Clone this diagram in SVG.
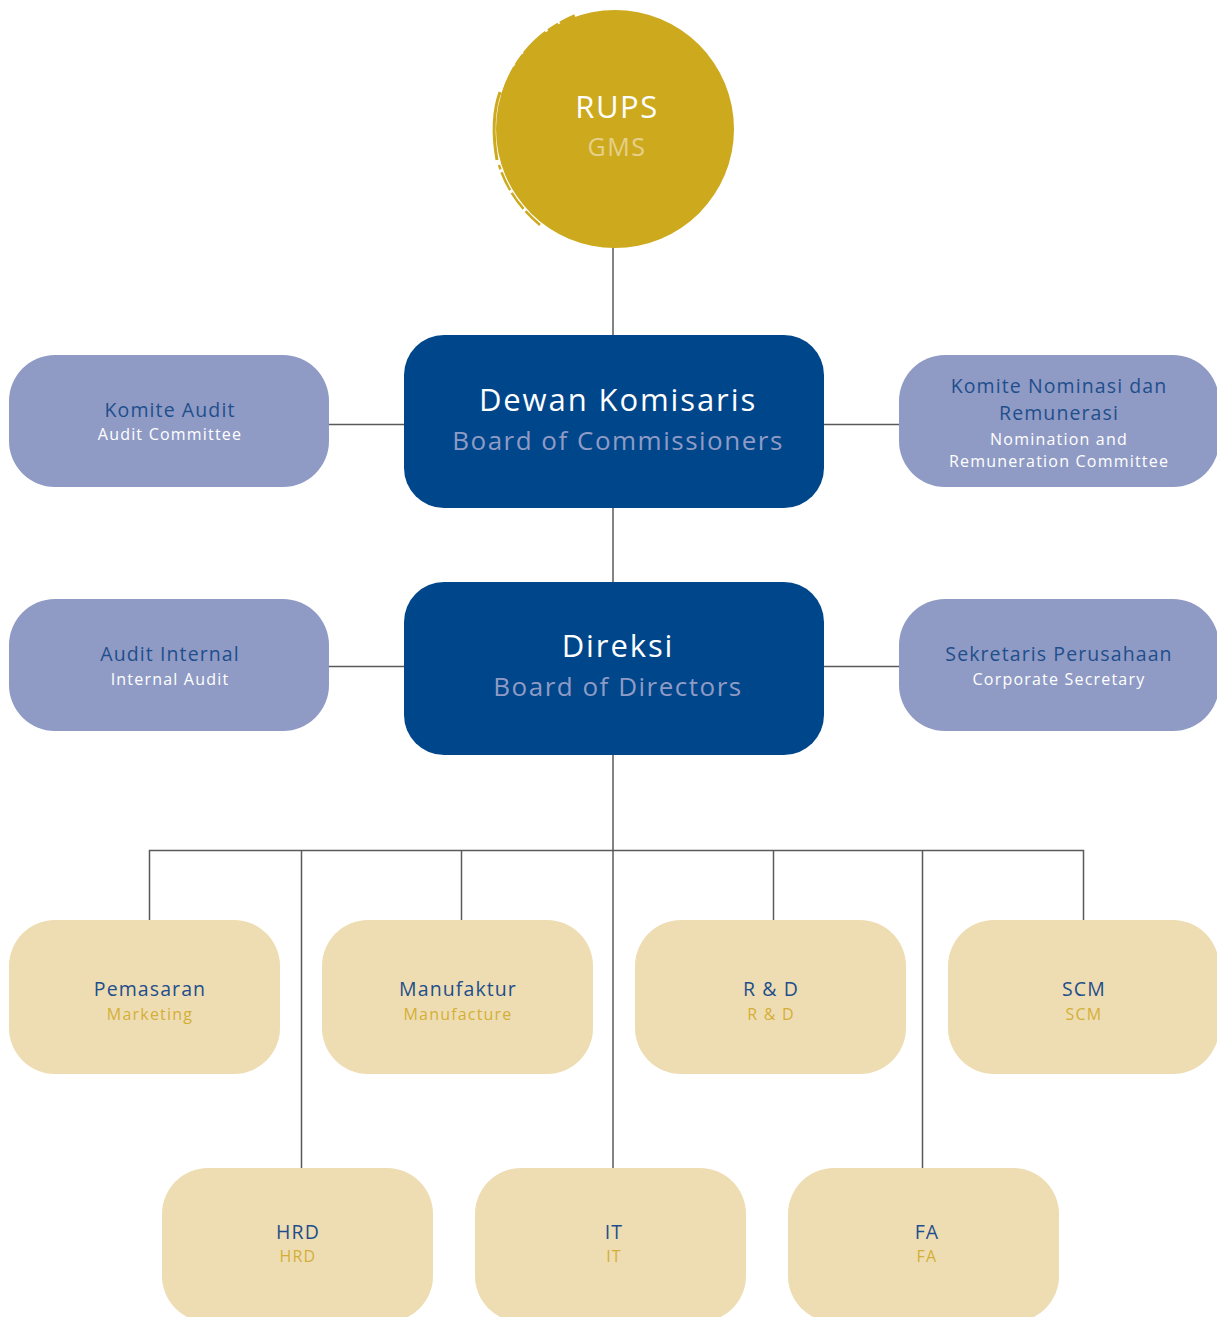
<svg xmlns="http://www.w3.org/2000/svg" width="1217" height="1317" viewBox="0 0 1217 1317">
<style>
.t{font-family:"Open Sans","Liberation Sans",sans-serif;text-anchor:middle}
.conn line,.conn polyline{stroke:#5a5a5a;stroke-width:1.5;fill:none}
.main{fill:#00468B}
.side{fill:#8F9BC5}
.dept{fill:#EEDDB2}
.mt{font-size:31px;fill:#ffffff;letter-spacing:1.9px}
.ms{font-size:26px;fill:#8F9BC5;letter-spacing:1.5px}
.st{font-size:19.5px;fill:#1F4E8C;letter-spacing:1.1px}
.ss{font-size:16px;fill:#ffffff;letter-spacing:1.2px}
.dt{font-size:19.5px;fill:#1F4E8C;letter-spacing:1.1px}
.ds{font-size:16px;fill:#D4AF37;letter-spacing:1.2px}
</style>
<rect width="1217" height="1317" fill="#ffffff"/>
<g class="conn" id="connectors">
<line x1="613" y1="245" x2="613" y2="336"/>
<line x1="613" y1="507" x2="613" y2="583"/>
<line x1="328" y1="424.5" x2="405" y2="424.5"/>
<line x1="823" y1="424.5" x2="900" y2="424.5"/>
<line x1="328" y1="666.5" x2="405" y2="666.5"/>
<line x1="823" y1="666.5" x2="900" y2="666.5"/>
<line x1="613" y1="754" x2="613" y2="1169"/>
<polyline points="149.5,921 149.5,850.5 1083.5,850.5 1083.5,921"/>
<line x1="301.5" y1="850" x2="301.5" y2="1169"/>
<line x1="461.5" y1="850" x2="461.5" y2="921"/>
<line x1="773.5" y1="850" x2="773.5" y2="921"/>
<line x1="922.5" y1="850" x2="922.5" y2="1169"/>
</g>
<g id="rups">
<circle cx="615" cy="129" r="119" fill="#CDA91E"/>
<path d="M503 95 Q520 40 575 16" stroke="#CDA91E" stroke-width="4" fill="none" stroke-dasharray="30 3 12 2"/>
<path d="M497 160 Q490 120 500 92" stroke="#CDA91E" stroke-width="3" fill="none"/>
<path d="M540 225 Q510 200 499 165" stroke="#CDA91E" stroke-width="2.5" fill="none" stroke-dasharray="20 3"/>
<text class="t" x="617" y="118" font-size="31" fill="#ffffff" letter-spacing="1.5">RUPS</text>
<text class="t" x="617" y="156" font-size="25" fill="#E6D08A" letter-spacing="1.5">GMS</text>
</g>
<g id="boc">
<rect class="main" x="404" y="335" width="420" height="173" rx="40"/>
<text class="t mt" x="618" y="411">Dewan Komisaris</text>
<text class="t ms" x="618" y="450">Board of Commissioners</text>
</g>
<g id="direksi">
<rect class="main" x="404" y="582" width="420" height="173" rx="40"/>
<text class="t mt" x="618" y="657">Direksi</text>
<text class="t ms" x="618" y="696">Board of Directors</text>
</g>
<g id="komite-audit">
<rect class="side" x="9" y="355" width="320" height="132" rx="46"/>
<text class="t st" x="170" y="417">Komite Audit</text>
<text class="t ss" x="170" y="440">Audit Committee</text>
</g>
<g id="komite-nominasi">
<rect class="side" x="899" y="355" width="320" height="132" rx="46"/>
<text class="t st" x="1059" y="393">Komite Nominasi dan</text>
<text class="t st" x="1059" y="420">Remunerasi</text>
<text class="t ss" x="1059" y="445">Nomination and</text>
<text class="t ss" x="1059" y="467">Remuneration Committee</text>
</g>
<g id="audit-internal">
<rect class="side" x="9" y="599" width="320" height="132" rx="46"/>
<text class="t st" x="170" y="661">Audit Internal</text>
<text class="t ss" x="170" y="685">Internal Audit</text>
</g>
<g id="sekretaris">
<rect class="side" x="899" y="599" width="320" height="132" rx="46"/>
<text class="t st" x="1059" y="661">Sekretaris Perusahaan</text>
<text class="t ss" x="1059" y="685">Corporate Secretary</text>
</g>
<g id="pemasaran">
<rect class="dept" x="9" y="920" width="271" height="154" rx="46"/>
<text class="t dt" x="150" y="996">Pemasaran</text>
<text class="t ds" x="150" y="1020">Marketing</text>
</g>
<g id="manufaktur">
<rect class="dept" x="322" y="920" width="271" height="154" rx="46"/>
<text class="t dt" x="458" y="996">Manufaktur</text>
<text class="t ds" x="458" y="1020">Manufacture</text>
</g>
<g id="rnd">
<rect class="dept" x="635" y="920" width="271" height="154" rx="46"/>
<text class="t dt" x="771" y="996">R &amp; D</text>
<text class="t ds" x="771" y="1020">R &amp; D</text>
</g>
<g id="scm">
<rect class="dept" x="948" y="920" width="271" height="154" rx="46"/>
<text class="t dt" x="1084" y="996">SCM</text>
<text class="t ds" x="1084" y="1020">SCM</text>
</g>
<g id="hrd">
<rect class="dept" x="162" y="1168" width="271" height="154" rx="46"/>
<text class="t dt" x="298" y="1239">HRD</text>
<text class="t ds" x="298" y="1262">HRD</text>
</g>
<g id="it">
<rect class="dept" x="475" y="1168" width="271" height="154" rx="46"/>
<text class="t dt" x="614" y="1239">IT</text>
<text class="t ds" x="614" y="1262">IT</text>
</g>
<g id="fa">
<rect class="dept" x="788" y="1168" width="271" height="154" rx="46"/>
<text class="t dt" x="927" y="1239">FA</text>
<text class="t ds" x="927" y="1262">FA</text>
</g>
</svg>
